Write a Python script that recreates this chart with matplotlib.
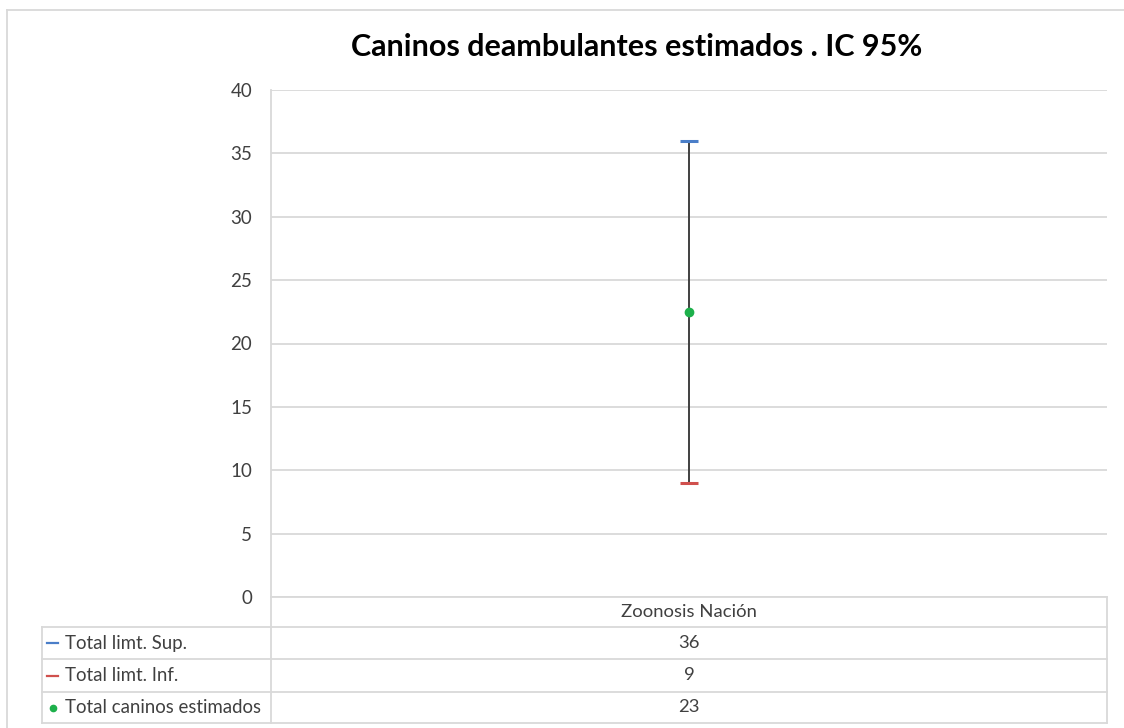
import numpy as np
import matplotlib.pyplot as plt
from matplotlib.lines import Line2D

plt.rcParams['font.family'] = ['Lato', 'DejaVu Sans']

# ── data ──────────────────────────────────────────────────────────────────────
category = ["Zoonosis Nación"]
upper = [36]
lower = [9]
estimate = [22.5]
row_labels = ["Total limt. Sup.", "Total limt. Inf.", "Total caninos estimados"]
yticks = [0, 5, 10, 15, 20, 25, 30, 35, 40]
title = "Caninos deambulantes estimados . IC 95%"

col_sup = "#4a7ec8"
col_inf = "#d0504d"
col_est = "#1db04b"
grid_col = "#d9d9d9"
text_col = "#404040"

W, H = 1124, 728
fig = plt.figure(figsize=(W / 100, H / 100), dpi=100)

def fx(px):
    return px / W

def fy(py):
    return 1 - py / H

# plot area
x0, x1, ytop, ybot = 271, 1107, 90, 597
ax = fig.add_axes([fx(x0), fy(ybot), fx(x1) - fx(x0), fy(ytop) - fy(ybot)])
ax.set_xlim(0, len(category))
ax.set_ylim(0, 40)
ax.set_yticks(yticks)
ax.tick_params(axis="y", length=0, pad=13.5, labelsize=13.5, labelcolor=text_col)
ax.set_xticks([])
for s in ["top", "right", "bottom"]:
    ax.spines[s].set_visible(False)
ax.spines["left"].set_color(grid_col)
ax.spines["left"].set_linewidth(1.3)
ax.yaxis.grid(True, color=grid_col, linewidth=1.3)
ax.set_axisbelow(True)

xc = np.arange(len(category)) + 0.5
ax.vlines(xc, lower, upper, color="#404040", linewidth=1.4, zorder=3)
ax.scatter(xc, upper, marker="_", s=150, color=col_sup, linewidths=2.2, zorder=4)
ax.scatter(xc, lower, marker="_", s=150, color=col_inf, linewidths=2.2, zorder=4)
ax.scatter(xc, estimate, marker="o", s=36, color=col_est, zorder=5)

fig.text(fx(637), fy(47), title, ha="center", va="center",
         fontsize=22, fontweight="bold", color="black")

# ── data table under the chart ───────────────────────────────────────────────
tx0 = 42
row_y = [597, 627, 659, 692, 723]
lkw = dict(color=grid_col, linewidth=1.3, transform=fig.transFigure)
fig.add_artist(Line2D([fx(x0), fx(x1)], [fy(row_y[0])] * 2, **lkw))
for y in row_y[1:]:
    fig.add_artist(Line2D([fx(tx0), fx(x1)], [fy(y)] * 2, **lkw))
fig.add_artist(Line2D([fx(x0), fx(x0)], [fy(row_y[0]), fy(row_y[-1])], **lkw))
fig.add_artist(Line2D([fx(x1), fx(x1)], [fy(row_y[0]), fy(row_y[-1])], **lkw))
fig.add_artist(Line2D([fx(tx0), fx(tx0)], [fy(row_y[1]), fy(row_y[-1])], **lkw))

# chart area border
fig.add_artist(Line2D([fx(7), fx(W)], [fy(10)] * 2, **lkw))
fig.add_artist(Line2D([fx(7), fx(7)], [fy(10), fy(H)], **lkw))

xmid = (x0 + x1) / 2
fig.text(fx(xmid), fy((row_y[0] + row_y[1]) / 2), category[0], ha="center",
         va="center", fontsize=13.3, color=text_col)

values = [upper[0], lower[0], estimate[0]]
markers = ["_", "_", "o"]
mcols = [col_sup, col_inf, col_est]
for i, (lab, v) in enumerate(zip(row_labels, values)):
    yc = fy((row_y[i + 1] + row_y[i + 2]) / 2)
    fig.text(fx(65), yc, lab, ha="left", va="center", fontsize=13.4, color=text_col)
    fig.text(fx(xmid), yc, f"{int(v + 0.5)}", ha="center", va="center",
             fontsize=13.3, color=text_col)
    if markers[i] == "_":
        fig.add_artist(Line2D([fx(47), fx(58)], [yc, yc], color=mcols[i],
                              linewidth=1.6, transform=fig.transFigure))
    else:
        fig.add_artist(Line2D([fx(53)], [yc], marker="o", markersize=4.5,
                              color=mcols[i], transform=fig.transFigure))

fig.savefig("out.png", dpi=100)
